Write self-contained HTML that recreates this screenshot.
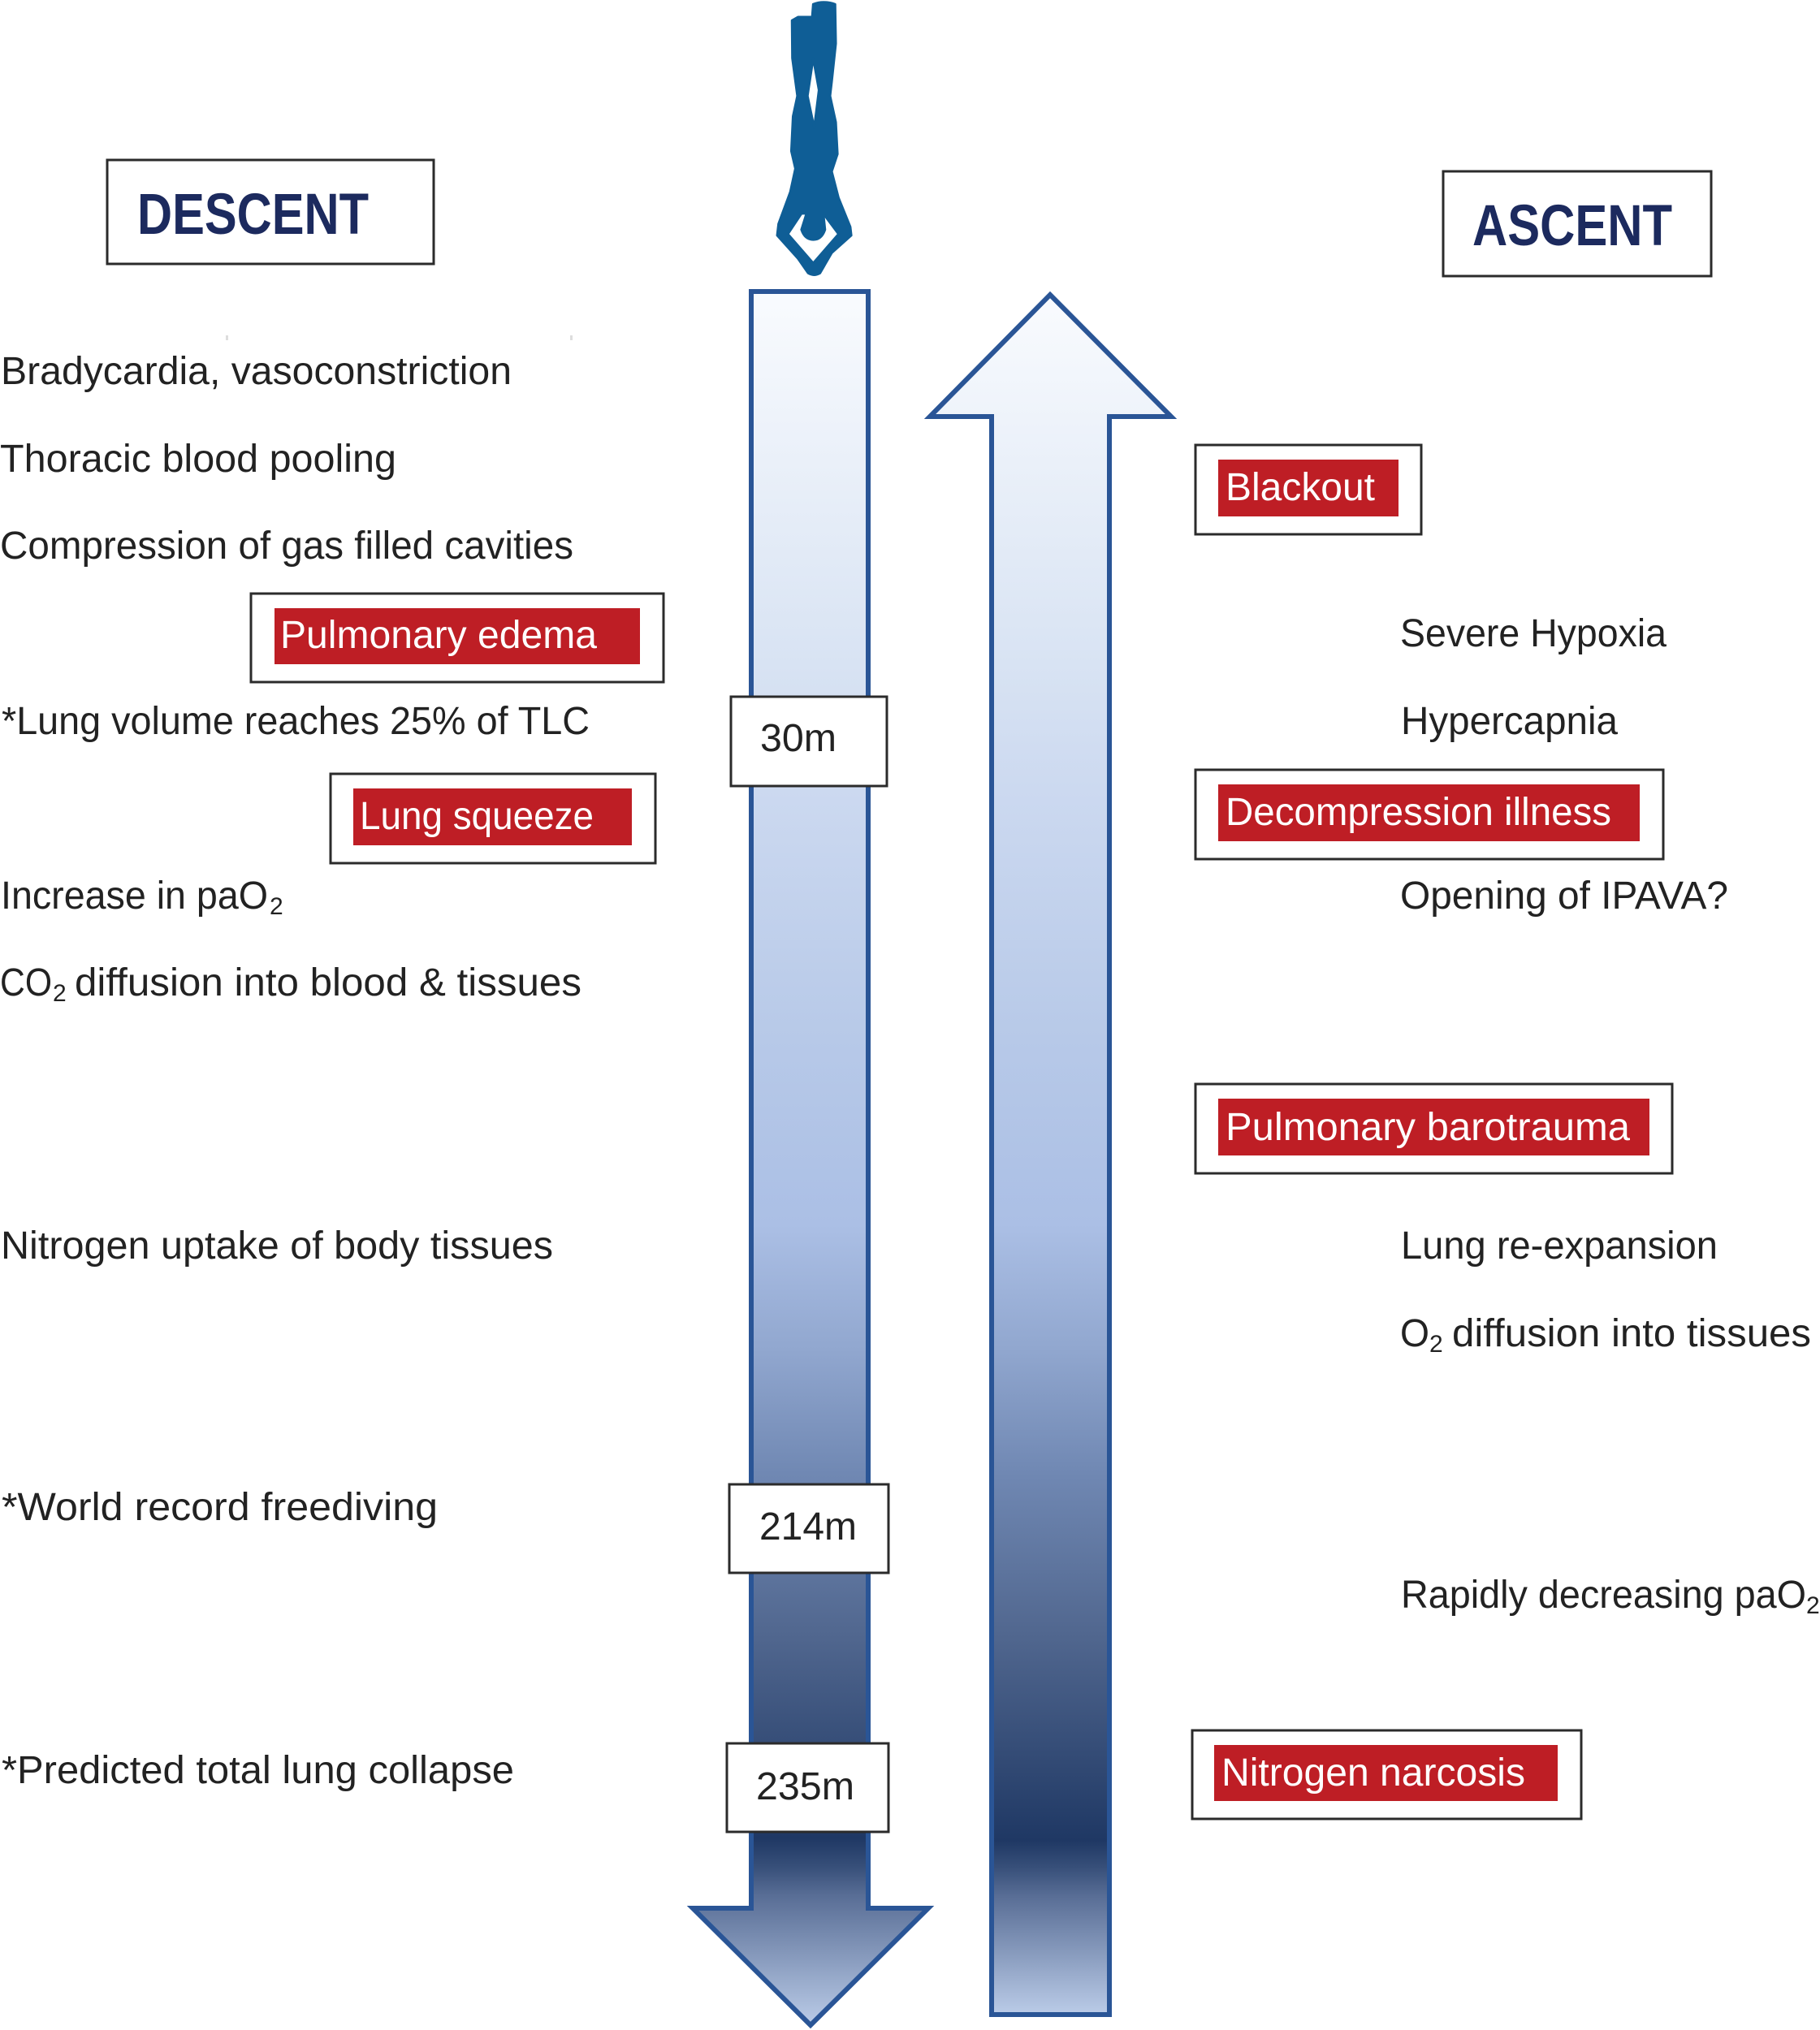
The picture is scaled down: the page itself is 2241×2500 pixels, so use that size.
<!DOCTYPE html>
<html><head><meta charset="utf-8"><style>
html,body{margin:0;padding:0;background:#fff}
svg{display:block}
text{font-family:"Liberation Sans",sans-serif;font-size:48px;fill:#222;}
.w{fill:#fff}
.h{font-size:71px;font-weight:bold;fill:#1c2a5e}
.s{font-size:30px}
.box{fill:#fff;stroke:#2b2b2b;stroke-width:3}
.red{fill:#be1e25}
.arr{stroke:#2a5596;stroke-width:6;stroke-linejoin:miter}
</style></head><body>
<svg width="2241" height="2500" viewBox="0 0 2241 2500" xmlns="http://www.w3.org/2000/svg">
<defs>
<linearGradient id="g" gradientUnits="userSpaceOnUse" x1="0" y1="359" x2="0" y2="2496">
<stop offset="0" stop-color="#f9fbfe"/>
<stop offset="0.2153" stop-color="#d8e3f3"/>
<stop offset="0.287" stop-color="#ccd9f0"/>
<stop offset="0.4306" stop-color="#b7c9e8"/>
<stop offset="0.538" stop-color="#abbfe5"/>
<stop offset="0.61" stop-color="#91a7cf"/>
<stop offset="0.6813" stop-color="#7088b3"/>
<stop offset="0.774" stop-color="#51678f"/>
<stop offset="0.8914" stop-color="#1f3864"/>
<stop offset="0.9085" stop-color="#38507a"/>
<stop offset="0.924" stop-color="#586d95"/>
<stop offset="1" stop-color="#bccde9"/>
</linearGradient>
<linearGradient id="g2" gradientUnits="userSpaceOnUse" x1="0" y1="364" x2="0" y2="2483">
<stop offset="0" stop-color="#f9fbfe"/>
<stop offset="0.215" stop-color="#d8e3f3"/>
<stop offset="0.287" stop-color="#ccd9f0"/>
<stop offset="0.432" stop-color="#b7c9e8"/>
<stop offset="0.54" stop-color="#abbfe5"/>
<stop offset="0.612" stop-color="#91a7cf"/>
<stop offset="0.684" stop-color="#7088b3"/>
<stop offset="0.778" stop-color="#51678f"/>
<stop offset="0.898" stop-color="#1f3864"/>
<stop offset="0.914" stop-color="#38507a"/>
<stop offset="0.93" stop-color="#586d95"/>
<stop offset="1" stop-color="#bccde9"/>
</linearGradient>
</defs>

<!-- diver -->
<g transform="translate(850,0) scale(.4146,.358)">
<path fill="#0f5e96" stroke="#0f5e96" stroke-width="7" stroke-linejoin="round" fill-rule="evenodd" d="M365,14 Q395,0 430,14 L432,150 L420,280 L415,330 L432,420 L437,530 L420,590 L440,680 L475,780 L478,810 L420,870 L385,940 Q367,952 350,940 L320,890 L258,810 L262,770 L297,660 L312,580 L300,520 L305,400 L318,330 L303,200 L302,70 L320,58 L362,58 Z
M365,200 L382,310 L368,440 L348,330 Z
M330,735 L290,805 L365,905 L440,805 L395,735 L400,790 Q390,825 365,825 Q340,825 330,790 L345,735 Z"/>
</g>

<!-- arrows -->
<path class="arr" fill="url(#g)" d="M925,359 H1069 V2350 H1143 L998,2494 L853,2350 H925 Z"/>
<path class="arr" fill="url(#g2)" d="M1293,363 L1442,513 H1366 V2481 H1221 V513 H1145 Z"/>

<!-- headers -->
<rect class="box" x="132" y="197" width="402" height="128"/>
<text class="h" x="169" y="288" textLength="285" lengthAdjust="spacingAndGlyphs">DESCENT</text>
<rect class="box" x="1777" y="211" width="330" height="129"/>
<text class="h" x="1813" y="302" textLength="246" lengthAdjust="spacingAndGlyphs">ASCENT</text>

<!-- specks -->
<rect x="278" y="413" width="3" height="6" fill="#ddd"/>
<rect x="702" y="413" width="3" height="6" fill="#ddd"/>

<!-- left text -->
<text x="1" y="473" textLength="629" lengthAdjust="spacingAndGlyphs">Bradycardia, vasoconstriction</text>
<text x="0" y="581" textLength="488" lengthAdjust="spacingAndGlyphs">Thoracic blood pooling</text>
<text x="0" y="688" textLength="706" lengthAdjust="spacingAndGlyphs">Compression of gas filled cavities</text>
<text x="2" y="904" textLength="724" lengthAdjust="spacingAndGlyphs">*Lung volume reaches 25% of TLC</text>
<text x="1" y="1119" textLength="329" lengthAdjust="spacingAndGlyphs">Increase in paO</text>
<text class="s" x="332" y="1126">2</text>
<text x="0" y="1226" textLength="64" lengthAdjust="spacingAndGlyphs">CO</text>
<text class="s" x="65" y="1233">2</text>
<text x="92" y="1226" textLength="624" lengthAdjust="spacingAndGlyphs">diffusion into blood &amp; tissues</text>
<text x="1" y="1550" textLength="680" lengthAdjust="spacingAndGlyphs">Nitrogen uptake of body tissues</text>
<text x="2" y="1872" textLength="537" lengthAdjust="spacingAndGlyphs">*World record freediving</text>
<text x="2" y="2196" textLength="631" lengthAdjust="spacingAndGlyphs">*Predicted total lung collapse</text>

<!-- red left -->
<rect class="box" x="309" y="731" width="508" height="109"/>
<rect class="red" x="338" y="749" width="450" height="69"/>
<text class="w" x="345" y="798" textLength="390" lengthAdjust="spacingAndGlyphs">Pulmonary edema</text>
<rect class="box" x="407" y="953" width="400" height="110"/>
<rect class="red" x="435" y="971" width="343" height="70"/>
<text class="w" x="443" y="1021" textLength="288" lengthAdjust="spacingAndGlyphs">Lung squeeze</text>

<!-- depth -->
<rect class="box" x="900" y="858" width="192" height="110"/>
<text x="936" y="925" textLength="94" lengthAdjust="spacingAndGlyphs">30m</text>
<rect class="box" x="898" y="1828" width="196" height="109"/>
<text x="935" y="1896" textLength="120" lengthAdjust="spacingAndGlyphs">214m</text>
<rect class="box" x="895" y="2147" width="199" height="109"/>
<text x="931" y="2216" textLength="121" lengthAdjust="spacingAndGlyphs">235m</text>

<!-- right red -->
<rect class="box" x="1472" y="548" width="278" height="110"/>
<rect class="red" x="1500" y="566" width="222" height="70"/>
<text class="w" x="1509" y="616" textLength="184" lengthAdjust="spacingAndGlyphs">Blackout</text>
<rect class="box" x="1472" y="948" width="576" height="110"/>
<rect class="red" x="1500" y="966" width="519" height="70"/>
<text class="w" x="1509" y="1016" textLength="475" lengthAdjust="spacingAndGlyphs">Decompression illness</text>
<rect class="box" x="1472" y="1335" width="587" height="110"/>
<rect class="red" x="1500" y="1353" width="531" height="70"/>
<text class="w" x="1509" y="1404" textLength="498" lengthAdjust="spacingAndGlyphs">Pulmonary barotrauma</text>
<rect class="box" x="1468" y="2131" width="479" height="109"/>
<rect class="red" x="1495" y="2149" width="423" height="69"/>
<text class="w" x="1504" y="2199" textLength="374" lengthAdjust="spacingAndGlyphs">Nitrogen narcosis</text>

<!-- right text -->
<text x="1724" y="796" textLength="328" lengthAdjust="spacingAndGlyphs">Severe Hypoxia</text>
<text x="1725" y="904" textLength="267" lengthAdjust="spacingAndGlyphs">Hypercapnia</text>
<text x="1724" y="1119" textLength="404" lengthAdjust="spacingAndGlyphs">Opening of IPAVA?</text>
<text x="1725" y="1550" textLength="390" lengthAdjust="spacingAndGlyphs">Lung re-expansion</text>
<text x="1724" y="1658" textLength="36" lengthAdjust="spacingAndGlyphs">O</text>
<text class="s" x="1760" y="1665">2</text>
<text x="1788" y="1658" textLength="442" lengthAdjust="spacingAndGlyphs">diffusion into tissues</text>
<text x="1725" y="1980" textLength="499" lengthAdjust="spacingAndGlyphs">Rapidly decreasing paO</text>
<text class="s" x="2224" y="1987">2</text>
</svg>
</body></html>
